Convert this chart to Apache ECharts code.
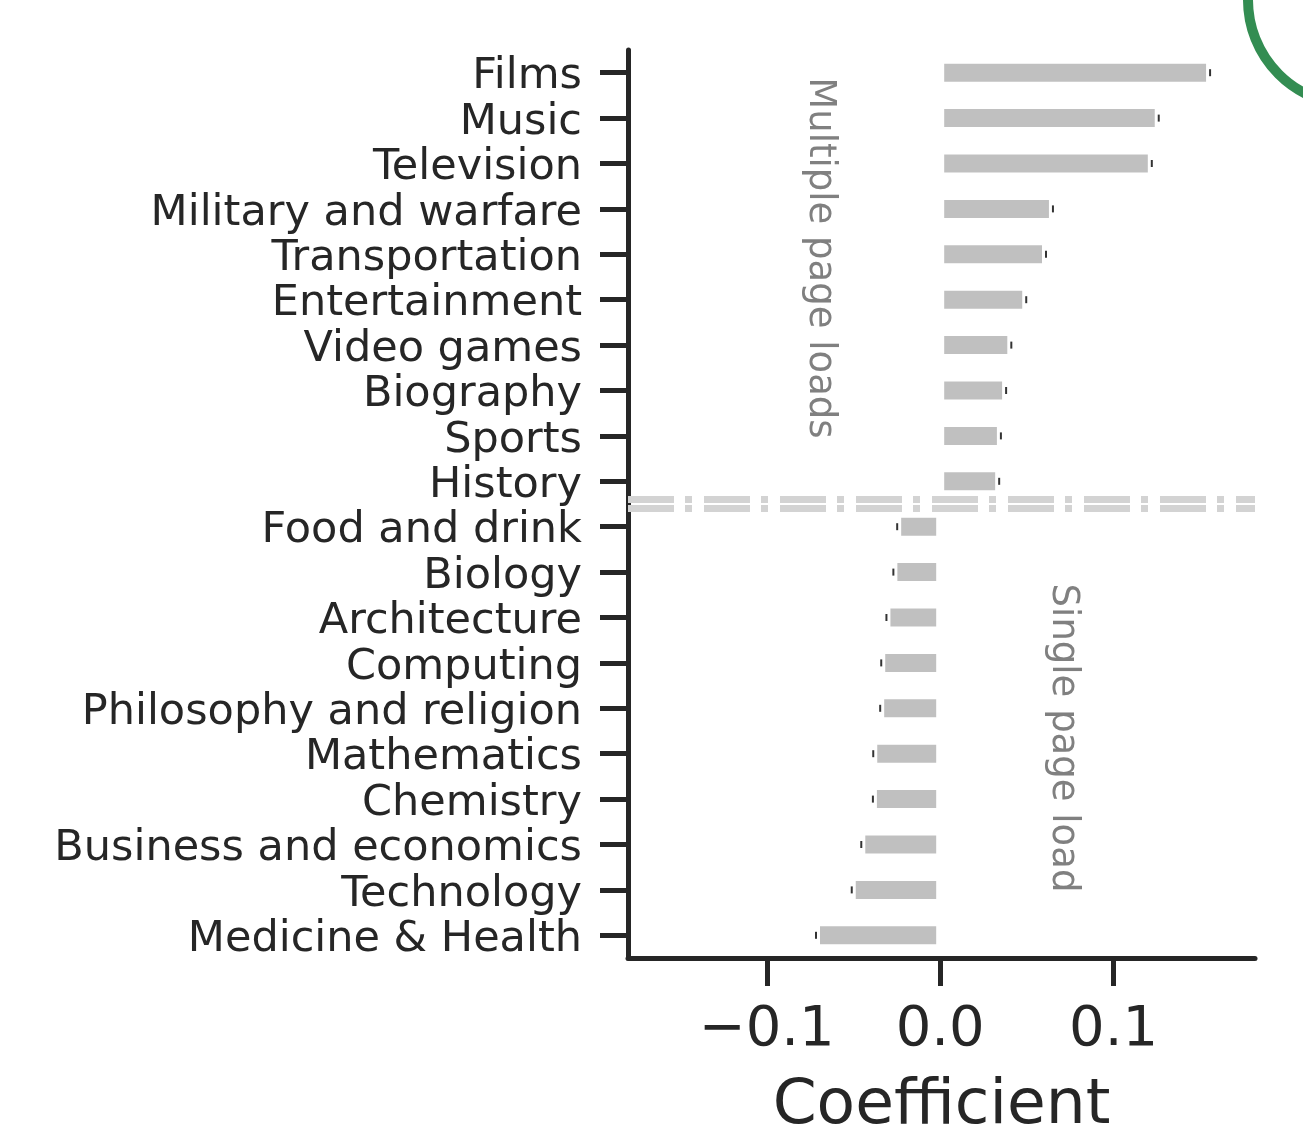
<!DOCTYPE html>
<html>
<head>
<meta charset="utf-8">
<script src="https://cdn.jsdelivr.net/npm/echarts@6/dist/echarts.min.js"></script>
<style>
  html, body { margin: 0; padding: 0; background: #fff; }
  #main { width: 1303px; height: 1124px; }
</style>
</head>
<body>
<div id="main"></div>
<script>
// categories, top to bottom
const categories = [
  'Films', 'Music', 'Television', 'Military and warfare', 'Transportation',
  'Entertainment', 'Video games', 'Biography', 'Sports', 'History',
  'Food and drink', 'Biology', 'Architecture', 'Computing', 'Philosophy and religion',
  'Mathematics', 'Chemistry', 'Business and economics', 'Technology', 'Medicine & Health'
];
// regression coefficients
const coefficients = [
  0.1556, 0.126, 0.122, 0.065, 0.061,
  0.0496, 0.041, 0.038, 0.035, 0.034,
  -0.0248, -0.027, -0.031, -0.034, -0.0346,
  -0.0386, -0.0388, -0.0455, -0.051, -0.0716
];
const xTicks = [-0.1, 0, 0.1];
const groupLabels = ['Multiple page loads', 'Single page load'];
const splitAt = 9.5; // between History and Food and drink

const ink = '#262626';
const font = 'DejaVu Sans';

const chart = echarts.init(document.getElementById('main'));

const fmt = v => (Math.abs(v) < 1e-9 ? '0.0' : (v < 0 ? '\u2212' : '') + Math.abs(v).toFixed(1));

const option = {
  animation: false,
  backgroundColor: '#fff',
  grid: { left: 628, right: 48, top: 50, bottom: 166, containLabel: false, outerBoundsMode: 'none' },
  xAxis: {
    type: 'value',
    min: -0.18,
    max: 0.1815,
    splitLine: { show: false },
    axisLine: { onZero: false, lineStyle: { color: ink, width: 5 } },
    axisTick: { show: true, customValues: xTicks, length: 28, lineStyle: { color: ink, width: 5 } },
    axisLabel: {
      customValues: xTicks, formatter: fmt, margin: 44,
      color: ink, fontFamily: font, fontSize: 56
    },
    name: 'Coefficient',
    nameLocation: 'middle',
    nameGap: 117,
    nameTextStyle: { color: ink, fontFamily: font, fontSize: 63 }
  },
  yAxis: [
    {
      type: 'category',
      data: categories,
      inverse: true,
      axisLine: { onZero: false, lineStyle: { color: ink, width: 5 } },
      axisTick: { show: true, alignWithLabel: true, interval: 0, length: 28, lineStyle: { color: ink, width: 5 } },
      axisLabel: {
        interval: 0, margin: 46,
        formatter: v => '{c|' + v + '}',
        rich: { c: { color: ink, fontFamily: font, fontSize: 43, padding: [9, 0, 0, 0] } }
      }
    },
    {
      // helper scale, one unit per category, used for the separator line
      type: 'value', min: -0.5, max: categories.length - 0.5, inverse: true, show: false
    }
  ],
  series: [
    {
      type: 'bar',
      data: coefficients,
      barWidth: 26,
      itemStyle: { color: '#c0c0c0', borderColor: '#fff', borderWidth: 4 },
      z: 2
    },
    {
      // tiny confidence-interval marks at the bar ends
      type: 'custom',
      data: coefficients.map((v, i) => [v, i]),
      encode: { x: 0, y: 1 },
      z: 3,
      renderItem: (params, api) => {
        const p = api.coord([api.value(0), api.value(1)]);
        return {
          type: 'line',
          shape: { x1: p[0], y1: p[1] - 3.5, x2: p[0], y2: p[1] + 3.5 },
          style: { stroke: '#333', lineWidth: 2 }
        };
      }
    },
    {
      type: 'line',
      yAxisIndex: 1,
      data: [],
      markLine: {
        silent: true,
        symbol: 'none',
        label: { show: false },
        lineStyle: { color: '#d3d3d3', width: 7, type: [46, 11, 7, 12], cap: 'butt' },
        data: [{ yAxis: splitAt - 0.1 }, { yAxis: splitAt + 0.1 }]
      }
    }
  ],
  graphic: [
    {
      type: 'text', x: 820, y: 258, rotation: -Math.PI / 2,
      style: {
        text: groupLabels[0], fill: '#808080', font: '37px "DejaVu Sans"',
        align: 'center', verticalAlign: 'middle'
      }
    },
    {
      type: 'text', x: 1063, y: 738, rotation: -Math.PI / 2,
      style: {
        text: groupLabels[1], fill: '#808080', font: '37px "DejaVu Sans"',
        align: 'center', verticalAlign: 'middle'
      }
    },
    {
      type: 'circle', shape: { cx: 1353, cy: 0, r: 105 },
      style: { fill: 'none', stroke: '#338d52', lineWidth: 10 }
    }
  ]
};

chart.setOption(option);
</script>
</body>
</html>
